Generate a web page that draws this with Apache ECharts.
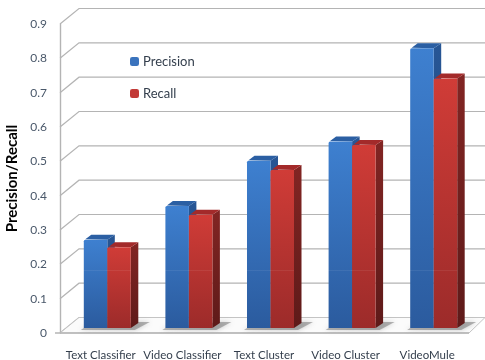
<!DOCTYPE html>
<html>
<head>
<meta charset="utf-8">
<style>html,body{margin:0;padding:0;background:#fff}#chart{width:485px;height:360px}</style>
<script src="https://cdn.jsdelivr.net/npm/echarts@6/dist/echarts.min.js"></script>
</head>
<body>
<div id="chart"></div>
<script>
// Precision and recall per classifier, read against the 0 to 0.9 axis
const categories = ['Text Classifier', 'Video Classifier', 'Text Cluster', 'Video Cluster', 'VideoMule'];
const precision = [0.257, 0.355, 0.487, 0.543, 0.815];
const recall = [0.235, 0.33, 0.46, 0.533, 0.727];
const yTicks = [0, 0.1, 0.2, 0.3, 0.4, 0.5, 0.6, 0.7, 0.8, 0.9];

// Projection of the fake 3D box, in pixels
const WALL_DX = 19, WALL_DY = -15.5;     // floor front edge to back wall
const BAR_DX = 6.5, BAR_DY = -5;         // floor front edge to bar front
const SIDE_DX = 7.5, SIDE_DY = -5;       // bar front to bar back
const BAR_RATIO = 0.288;                 // bar width as a share of the band
const SEAM_VALUE = 0.169;                // height of the lighter seam across each bar
const GRID_COLOR = '#b4b4b4';

const grad = (top, bottom) => new echarts.graphic.LinearGradient(0, 0, 0, 1, [
  { offset: 0, color: top }, { offset: 1, color: bottom }
]);
const poly = (points, style) => ({ type: 'polygon', shape: { points }, style });

const palette = {
  Precision: { front: ['#3e80d0', '#2b5b9e'], top: '#2b5fa3', side: ['#275695', '#1f4577'] },
  Recall: { front: ['#d03c37', '#9c2b2a'], top: '#a32a2a', side: ['#822523', '#5e1a19'] }
};

function wallItem(params, api) {
  const x0 = params.coordSys.x;
  const p = api.coord([0, api.value(0)]);
  const right = api.getWidth();
  return {
    type: 'polyline',
    shape: { points: [[x0, p[1]], [x0 + WALL_DX, p[1] + WALL_DY], [right, p[1] + WALL_DY]] },
    style: { stroke: GRID_COLOR, lineWidth: 1.2, fill: 'none' }
  };
}

function floorItem(params, api) {
  const cs = params.coordSys;
  const y = cs.y + cs.height;
  const xr = cs.x + cs.width + 1;
  return {
    type: 'group',
    children: [
      poly([[cs.x, y], [xr, y], [xr + 16, y + WALL_DY], [cs.x + WALL_DX, y + WALL_DY]],
        { fill: '#fbfbfb', stroke: '#c4c4c4', lineWidth: 1 }),
      { type: 'line', shape: { x1: cs.x - 5, y1: y, x2: xr, y2: y }, style: { stroke: GRID_COLOR, lineWidth: 1.6 } }
    ]
  };
}

function shadowItem(params, api) {
  const c = api.coord([api.value(0), 0]);
  const band = api.size([1, 0])[0];
  const w = band * BAR_RATIO;
  const left = c[0] + BAR_DX - w;
  const right = c[0] + BAR_DX + w;
  const base = c[1] + BAR_DY;
  return poly([[left - 3, base + 2], [right + 4, base + 2], [right + 19, base - 6], [right + 8, base - 6], [left, base]],
    { fill: 'rgba(120,120,120,0.55)', shadowBlur: 5, shadowColor: 'rgba(120,120,120,0.7)' });
}

// One bar: side, top and front faces, offset to its slot inside the band
function barItem(slot, colors) {
  return function (params, api) {
    const idx = api.value(0);
    const band = api.size([1, 0])[0];
    const w = band * BAR_RATIO;
    const base = api.coord([idx, 0]);
    const top = api.coord([idx, api.value(1)]);
    const seam = api.coord([idx, SEAM_VALUE]);
    const x0 = base[0] + BAR_DX + slot * w;
    const x1 = x0 + w;
    const yb = base[1] + BAR_DY;
    const yt = top[1] + BAR_DY;
    const ys = seam[1] + BAR_DY;
    const ox = SIDE_DX, oy = SIDE_DY;
    return {
      type: 'group',
      children: [
        poly([[x1, yt], [x1 + ox, yt + oy], [x1 + ox, yb + oy], [x1, yb]], { fill: grad(colors.side[0], colors.side[1]) }),
        poly([[x0 + 1.5, yt - 0.5], [x0 + ox, yt + oy], [x1 + ox, yt + oy], [x1, yt]], { fill: colors.top }),
        { type: 'rect', shape: { x: x0, y: yt, width: w, height: yb - yt, r: [1.5, 0, 0, 0] },
          style: { fill: grad(colors.front[0], colors.front[1]) } },
        { type: 'rect', shape: { x: x0 - 0.7, y: ys, width: w + 0.7, height: 1 },
          style: { fill: 'rgba(255,255,255,0.07)' } }
      ]
    };
  };
}

const chart = echarts.init(document.getElementById('chart'), null, { renderer: 'canvas' });
const FONT = 'Lato';
chart.setOption({
  animation: false,
  backgroundColor: '#fff',
  grid: { left: 60, width: 408, top: 24, height: 309, outerBoundsMode: 'none' },
  legend: {
    left: 125, top: 50, orient: 'vertical', itemWidth: 9, itemHeight: 9, itemGap: 19,
    data: ['Precision', 'Recall'],
    textStyle: { fontFamily: FONT, fontSize: 13, color: '#333e4c', padding: [0, 0, 0, -1] }
  },
  xAxis: {
    type: 'category', data: categories,
    axisLine: { show: false }, axisTick: { show: false },
    axisLabel: { interval: 0, margin: 16, fontFamily: FONT, fontSize: 11.5, color: '#333e4c' }
  },
  yAxis: {
    type: 'value', min: 0, max: 0.9, interval: 0.1,
    name: 'Precision/Recall', nameLocation: 'middle', nameGap: 30, nameRotate: 90,
    nameTextStyle: { fontFamily: FONT, fontWeight: 'bold', fontSize: 15, color: '#000' },
    splitLine: { show: false }, axisTick: { show: false },
    axisLine: { show: true, lineStyle: { color: GRID_COLOR, width: 1.4 } },
    axisLabel: { margin: 13, fontFamily: FONT, fontSize: 12, color: '#4a586a' }
  },
  series: [
    { type: 'custom', name: 'wall', z: 1, silent: true, renderItem: wallItem, encode: { y: 0 },
      data: yTicks.map(v => [v]) },
    { type: 'custom', name: 'floor', z: 2, silent: true, renderItem: floorItem, data: [[0]] },
    { type: 'custom', name: 'shadow', z: 3, silent: true, renderItem: shadowItem, encode: { x: 0 },
      data: categories.map((_, i) => [i]) },
    { type: 'custom', name: 'Precision', z: 4, renderItem: barItem(-1, palette.Precision), encode: { x: 0, y: 1 },
      itemStyle: { color: '#3a73bd' }, data: precision.map((v, i) => [i, v]) },
    { type: 'custom', name: 'Recall', z: 5, renderItem: barItem(0, palette.Recall), encode: { x: 0, y: 1 },
      itemStyle: { color: '#c23a37' }, data: recall.map((v, i) => [i, v]) }
  ]
});
</script>
</body>
</html>
